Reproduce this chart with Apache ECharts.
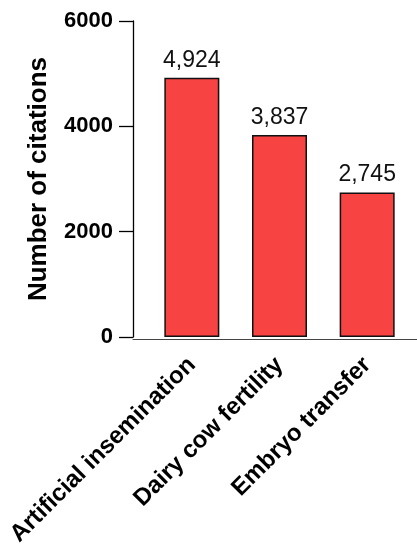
<!DOCTYPE html>
<html>
<head>
<meta charset="utf-8">
<script src="https://cdn.jsdelivr.net/npm/echarts@6/dist/echarts.min.js"></script>
<style>
  html, body { margin: 0; padding: 0; background: #fff; }
  #chart { width: 417px; height: 549px; }
</style>
</head>
<body>
<div id="chart"></div>
<script>
// citation counts per topic
var categories = ['Artificial insemination', 'Dairy cow fertility', 'Embryo transfer'];
var citations = [4924, 3837, 2745];
var yTicks = [0, 2000, 4000, 6000];

var chart = echarts.init(document.getElementById('chart'));
var font = 'Liberation Sans, Arial, sans-serif';

var option = {
    animation: false,
    backgroundColor: '#fff',
    grid: [
        // bars live here
        { left: 148, right: 6, top: 21, bottom: 210 },
        // only used to draw the full-width x axis line
        { left: 133, right: 0, top: 21, bottom: 210 }
    ],
    xAxis: [
        {
            type: 'category',
            gridIndex: 0,
            data: categories,
            axisLine: { show: false },
            axisTick: { show: false },
            axisLabel: {
                rotate: 45,
                margin: 24,
                interval: 0,
                color: '#000',
                fontFamily: font,
                fontWeight: 'bold',
                fontSize: 24
            }
        },
        {
            type: 'value',
            gridIndex: 1,
            min: 0,
            max: 1,
            axisLine: { show: true, lineStyle: { color: '#444', width: 1 } },
            axisTick: { show: false },
            axisLabel: { show: false },
            splitLine: { show: false }
        }
    ],
    yAxis: [
        {
            type: 'value',
            gridIndex: 0,
            min: yTicks[0],
            max: yTicks[yTicks.length - 1],
            interval: 2000,
            offset: 15,
            name: 'Number of citations',
            nameLocation: 'middle',
            nameGap: 81,
            nameTextStyle: {
                color: '#000',
                fontFamily: font,
                fontWeight: 'bold',
                fontSize: 26
            },
            axisLine: { show: true, lineStyle: { color: '#000', width: 1.3 } },
            axisTick: { show: true, inside: false, length: 14, lineStyle: { color: '#000', width: 1.3 } },
            axisLabel: {
                margin: 20,
                color: '#000',
                fontFamily: font,
                fontWeight: 'bold',
                fontSize: 22,
                formatter: function (v) { return String(v); }
            },
            splitLine: { show: false }
        },
        {
            type: 'value',
            gridIndex: 1,
            min: 0,
            max: 1,
            show: false
        }
    ],
    series: [{
        type: 'bar',
        xAxisIndex: 0,
        yAxisIndex: 0,
        data: citations,
        barWidth: 55,
        itemStyle: {
            color: '#F84343',
            borderColor: '#111',
            borderWidth: 1.5
        },
        label: {
            show: true,
            position: 'top',
            distance: 6,
            color: '#111',
            fontFamily: font,
            fontSize: 23,
            formatter: function (p) { return p.value.toLocaleString('en-US'); }
        }
    }]
};

chart.setOption(option);
</script>
</body>
</html>
